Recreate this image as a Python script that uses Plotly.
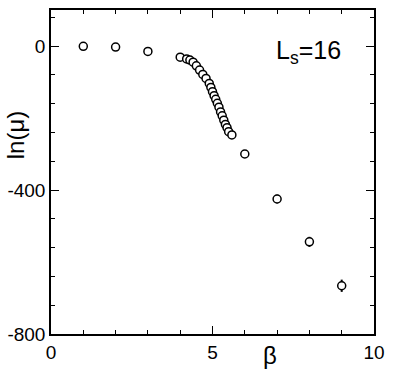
import plotly.graph_objects as go

beta = [1, 2, 3, 4, 4.2, 4.3, 4.4, 4.5, 4.6, 4.7, 4.8, 4.9, 4.95, 5.0, 5.05,
        5.1, 5.15, 5.2, 5.25, 5.3, 5.35, 5.4, 5.45, 5.5, 5.6, 6, 7, 8, 9]
ln_mu = [-1, -3, -15, -31, -36, -39, -45, -55, -67, -79, -90, -104, -115, -127, -138,
         -148, -159, -170, -183, -194, -206, -218, -227, -238, -247, -300, -425, -544, -666]
err = [0, 0, 0, 0, 0, 0, 0, 0, 0, 0, 0, 0, 0, 0, 0,
       0, 0, 0, 0, 0, 0, 0, 0, 0, 0, 4, 12, 14, 17]

FONT = "Liberation Sans, Arial, sans-serif"

fig = go.Figure()
fig.add_trace(go.Scatter(
    x=beta, y=ln_mu, mode="markers",
    error_y=dict(type="data", array=err, visible=True, color="black", thickness=2, width=0),
    marker=dict(symbol="circle", size=8, color="white", line=dict(color="black", width=1.5)),
    showlegend=False,
))

axis_common = dict(
    showline=True, linecolor="black", linewidth=1.5, mirror="ticks",
    ticks="inside", ticklen=8, tickwidth=1, tickcolor="black",
    showgrid=False, zeroline=False,
    tickfont=dict(family=FONT, size=19, color="black"),
)

fig.update_xaxes(range=[0, 10], tickvals=[0, 5, 10], ticktext=["0", "5", "10"],
                 minor=dict(dtick=1, ticks="inside", ticklen=4, tickcolor="black", showgrid=False),
                 **axis_common)
fig.update_yaxes(range=[-800, 100], tickvals=[-800, -400, 0], ticktext=["-800", "-400", "0"],
                 minor=dict(tick0=0, dtick=80, ticks="inside", ticklen=4, tickcolor="black", showgrid=False),
                 **axis_common)

fig.add_annotation(text="β", xref="paper", yref="paper", x=0.678, y=-0.115,
                   xanchor="center", yanchor="bottom", showarrow=False,
                   font=dict(family=FONT, size=24, color="black"))
fig.add_annotation(text="ln(μ)", xref="paper", yref="paper", x=-0.11, y=0.615,
                   xanchor="center", yanchor="middle", showarrow=False, textangle=-90,
                   font=dict(family=FONT, size=24, color="black"))
fig.add_annotation(text="L<sub>s</sub>=16", xref="paper", yref="paper", x=0.905, y=0.87,
                   xanchor="right", yanchor="middle", showarrow=False,
                   font=dict(family=FONT, size=25, color="black"))

fig.update_layout(
    width=415, height=372,
    margin=dict(l=51, r=41, t=10, b=38, autoexpand=False),
    paper_bgcolor="white", plot_bgcolor="white",
)

# remove the default page margin so the figure fills the window exactly
fig.write_html("out.html", config={"displayModeBar": False},
               post_script="document.body.style.margin='0px';")
